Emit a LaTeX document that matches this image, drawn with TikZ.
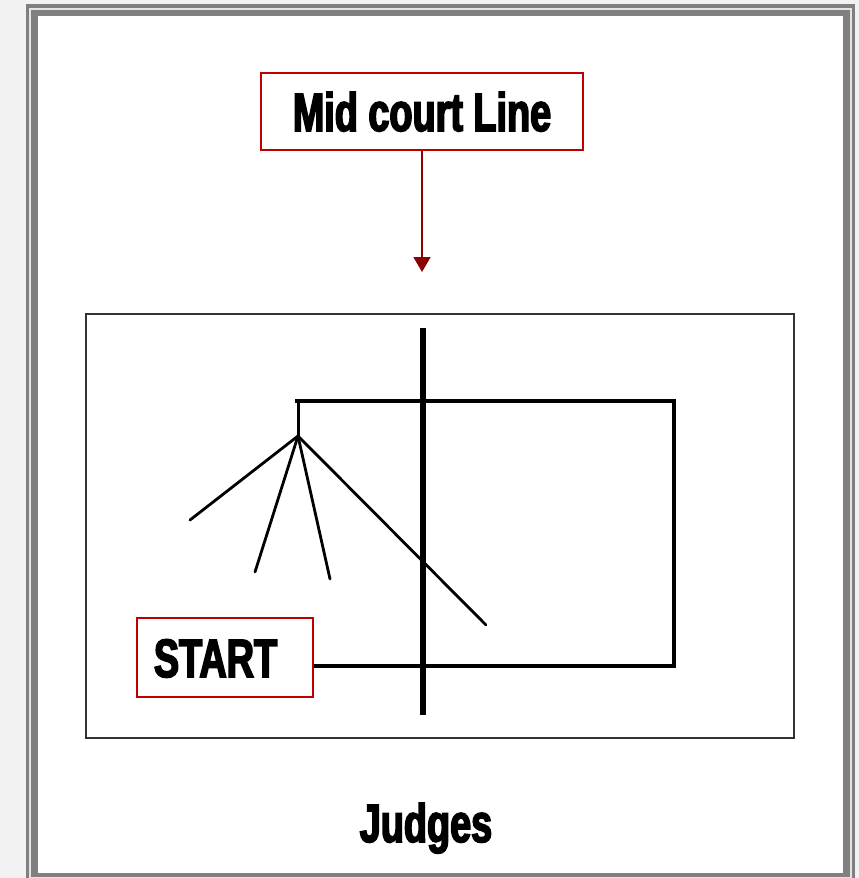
\documentclass[tikz,border=0pt]{standalone}
\usepackage{fontspec}
\usetikzlibrary{arrows.meta}
\newfontfamily\impact{Liberation Sans}[FakeStretch=0.70,FakeBold=3]
\definecolor{bgc}{HTML}{F2F2F2}
\definecolor{framegray}{HTML}{808080}
\definecolor{framelight}{HTML}{E4E4E4}
\definecolor{boxred}{HTML}{C00000}
\definecolor{arrowred}{HTML}{8B0000}
\tikzset{
  redbox/.style={draw=boxred, line width=1.6pt, fill=white, inner sep=0pt,
    font=\impact\bfseries\fontsize{54}{60}\selectfont, text height=39pt, text depth=0pt},
  plaintext/.style={inner sep=0pt, font=\impact\bfseries\fontsize{54}{60}\selectfont},
  courtline/.style={draw=black, line width=3.8pt},
  fanline/.style={draw=black, line width=2.8pt, line cap=round},
}
\begin{document}
\begin{tikzpicture}[x=1pt,y=-1pt]
  \useasboundingbox (0,0) rectangle (859,878);
  % background and frame
  \fill[bgc] (0,0) rectangle (859,878);
  \fill[framegray] (26,4) rectangle (855,882);
  \fill[framelight] (29,8) rectangle (852,879);
  \fill[framegray] (31,10) rectangle (850,877);
  \fill[white] (38,16) rectangle (843,873);

  % court outline
  \draw[draw=black!80, line width=1.5pt] (86,314) rectangle (794,738);

  % labels
  \node[redbox, minimum width=322pt, minimum height=77pt] (mid) at (422,111.5) {Mid court Line};
  \node[redbox, minimum width=176pt, minimum height=79pt] (start) at (225,657.5) {\hspace*{-19pt}START};
  \node[plaintext, anchor=base] (judges) at (426,842) {Judges};

  % arrow
  \coordinate (tip) at (422,272);
  \draw[arrowred, line width=1.8pt, -{Triangle[width=17pt,length=15pt]}] (mid.south) -- (tip);

  % court geometry
  \coordinate (tl) at (295,401);
  \coordinate (tr) at (674,401);
  \coordinate (br) at (674,666);
  \coordinate (apex) at (298,436);
  \coordinate (f1) at (190,520);
  \coordinate (f2) at (255,572);
  \coordinate (f3) at (330,579);
  \coordinate (f4) at (486,625);
  \coordinate (mtop) at (423,328);
  \coordinate (mbot) at (423,715);

  \draw[courtline] (tl) -- (tr) -- (br) -- (start.east |- br);
  \draw[black, line width=3pt] (tl -| apex) -- (apex);
  \draw[fanline] (apex) -- (f1);
  \draw[fanline] (apex) -- (f2);
  \draw[fanline] (apex) -- (f3);
  \draw[fanline] (apex) -- (f4);
  \draw[black, line width=5.5pt] (mtop) -- (mbot);
\end{tikzpicture}
\end{document}
